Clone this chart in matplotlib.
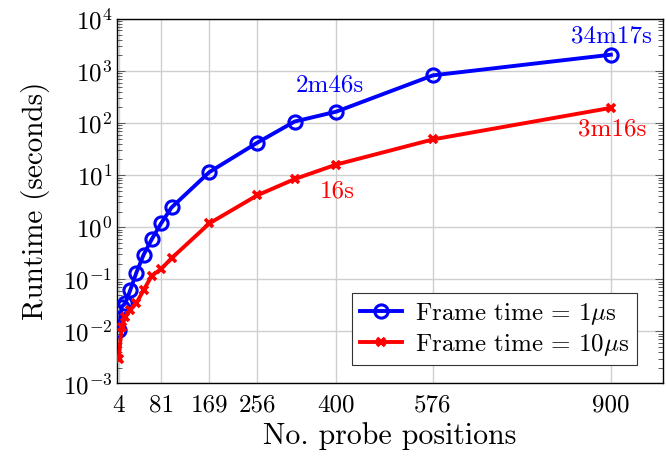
import numpy as np
import matplotlib
matplotlib.use("Agg")
import matplotlib.pyplot as plt
from matplotlib.ticker import LogLocator, NullFormatter

plt.rcParams['font.family'] = ['cmr10', 'DejaVu Serif']
plt.rcParams['mathtext.fontset'] = 'cm'
plt.rcParams['axes.formatter.use_mathtext'] = True

# ---------------- data ----------------
positions = [4, 9, 16, 25, 36, 49, 64, 81, 100, 169, 256, 324, 400, 576, 900]
runtime_1us = [0.0108, 0.0295, 0.035, 0.063, 0.135, 0.295, 0.59, 1.19, 2.4,
               11.5, 42, 107, 166, 826, 2057]
runtime_10us = [0.003, 0.0123, 0.019, 0.026, 0.035, 0.062, 0.117, 0.158, 0.254,
                1.19, 4.1, 8.4, 16, 48.6, 196]
xtick_vals = [4, 81, 169, 256, 400, 576, 900]

# ---------------- plot ----------------
fig = plt.figure(figsize=(6.66, 4.62), dpi=100)
ax = fig.add_axes([0.176, 0.170, 0.8195, 0.789])

ax.plot(positions, runtime_1us, color='blue', lw=2.8, marker='o', ms=9.5,
        mfc='none', mew=2.2, label=r'Frame time = 1$\mu$s', zorder=3)
ax.plot(positions, runtime_10us, color='red', lw=2.8, marker='x', ms=6,
        mew=2.6, label=r'Frame time = 10$\mu$s', zorder=3)

ax.set_yscale('log')
ax.set_ylim(1e-3, 1e4)
ax.set_xlim(1, 995)
ax.set_xticks(xtick_vals)
ax.set_xticklabels([str(v) for v in xtick_vals])
ax.yaxis.set_major_locator(LogLocator(base=10, numticks=20))
ax.yaxis.set_minor_locator(LogLocator(base=10, subs=np.arange(2, 10), numticks=20))
ax.yaxis.set_minor_formatter(NullFormatter())

ax.grid(True, which='major', color='#cfcfcf', lw=1.0)
ax.set_axisbelow(True)
ax.tick_params(which='both', direction='in', top=True, right=True,
               labelsize=18, width=0.6, color='#444444')
ax.tick_params(which='major', length=6)
ax.tick_params(which='minor', length=3.5)
ax.tick_params(axis='x', which='major', length=0, pad=8)
for s in ax.spines.values():
    s.set_linewidth(1.0)

ax.set_xlabel('No. probe positions', fontsize=21.5, labelpad=4)
ax.set_ylabel('Runtime (seconds)', fontsize=21, labelpad=9)

# annotations
ax.annotate('34m17s', (900, 2057), xytext=(1, 18), textcoords='offset pixels',
            ha='center', va='center', color='blue', fontsize=18)
ax.annotate('2m46s', (400, 166), xytext=(-6, 26), textcoords='offset pixels',
            ha='center', va='center', color='blue', fontsize=18)
ax.annotate('16s', (400, 16), xytext=(1, -27), textcoords='offset pixels',
            ha='center', va='center', color='red', fontsize=18)
ax.annotate('3m16s', (900, 196), xytext=(1, -22), textcoords='offset pixels',
            ha='center', va='center', color='red', fontsize=18)

leg = ax.legend(loc='lower right', bbox_to_anchor=(0.952, 0.050), fontsize=18,
                fancybox=False, framealpha=1, edgecolor='#333333',
                handlelength=1.7, borderaxespad=0, labelspacing=0.2,
                handletextpad=0.5, borderpad=0.3)
leg.get_frame().set_linewidth(0.8)

fig.savefig('out.png', dpi=100)
